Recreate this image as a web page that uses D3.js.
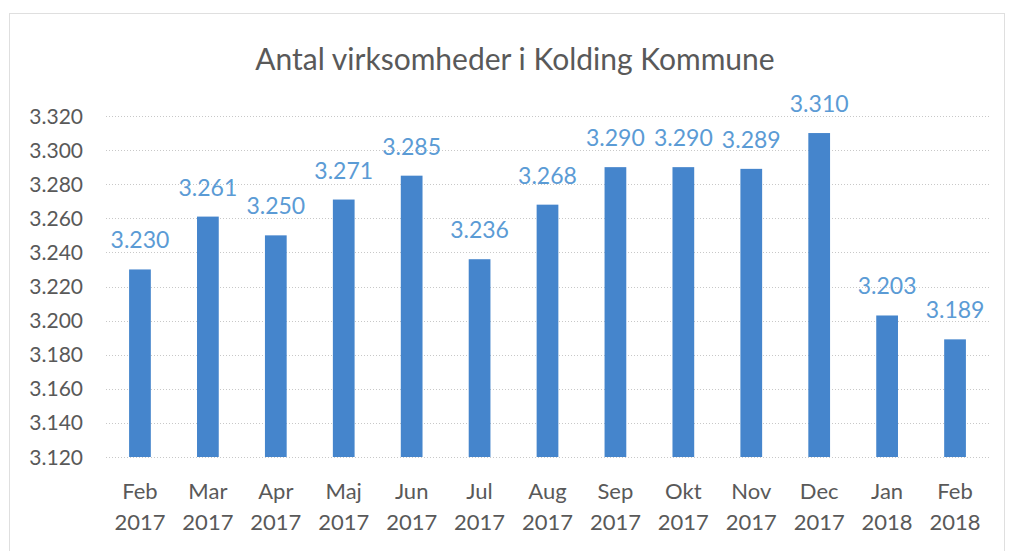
<!DOCTYPE html>
<html>
<head>
<meta charset="utf-8">
<script src="https://cdn.jsdelivr.net/npm/d3@7"></script>
<style>
  body { margin: 0; background: #fff; }
  svg { display: block; font-family: Lato, "Open Sans", sans-serif; }
</style>
</head>
<body>
<div id="chart"></div>
<script>
// data
var months = ["Feb", "Mar", "Apr", "Maj", "Jun", "Jul", "Aug", "Sep", "Okt", "Nov", "Dec", "Jan", "Feb"];
var years = ["2017", "2017", "2017", "2017", "2017", "2017", "2017", "2017", "2017", "2017", "2017", "2018", "2018"];
var values = [3230, 3261, 3250, 3271, 3285, 3236, 3268, 3290, 3290, 3289, 3310, 3203, 3189];
var yTicks = [3120, 3140, 3160, 3180, 3200, 3220, 3240, 3260, 3280, 3300, 3320];

var W = 1009, H = 551;
var svg = d3.select("#chart").append("svg").attr("width", W).attr("height", H);

// chart border
svg.append("rect")
  .attr("x", 9.5).attr("y", 13.5)
  .attr("width", 995).attr("height", 560)
  .attr("fill", "none")
  .attr("stroke", "#bfbfbf")
  .attr("stroke-dasharray", "1,1");

svg.append("text")
  .attr("x", 515).attr("y", 70)
  .attr("text-anchor", "middle")
  .attr("fill", "#595959")
  .style("font-size", "30px")
  .text("Antal virksomheder i Kolding Kommune");

var x = d3.scaleBand()
  .domain(d3.range(values.length))
  .range([106, 989])
  .paddingInner(0.68)
  .paddingOuter(0.34);

var y = d3.scaleLinear().domain([3120, 3320]).range([457, 116]);

var fmt = function (v) { return d3.format(",")(v).replace(",", "."); };

// gridlines
svg.append("g").selectAll("line")
  .data(yTicks)
  .enter().append("line")
  .attr("x1", 106).attr("x2", 989)
  .attr("y1", d => Math.round(y(d)) + 0.5)
  .attr("y2", d => Math.round(y(d)) + 0.5)
  .attr("stroke", "#c8c8c8")
  .attr("stroke-dasharray", "1,2");

// y labels
svg.append("g").selectAll("text")
  .data(yTicks)
  .enter().append("text")
  .attr("x", 83)
  .attr("y", d => y(d) + 7.5)
  .attr("text-anchor", "end")
  .attr("fill", "#595959")
  .style("font-size", "21px")
  .text(fmt);

// bars
svg.append("g").selectAll("rect")
  .data(values)
  .enter().append("rect")
  .attr("x", (d, i) => x(i))
  .attr("width", x.bandwidth())
  .attr("y", d => y(d))
  .attr("height", d => y(3120) - y(d))
  .attr("fill", "#4585cc");

// data labels
svg.append("g").selectAll("text")
  .data(values)
  .enter().append("text")
  .attr("x", (d, i) => x(i) + x.bandwidth() / 2)
  .attr("y", d => y(d) - 21)
  .attr("text-anchor", "middle")
  .attr("fill", "#5b9bd5")
  .style("font-size", "23px")
  .text(fmt);

// x labels
var xl = svg.append("g").selectAll("text")
  .data(months)
  .enter().append("text")
  .attr("text-anchor", "middle")
  .attr("fill", "#595959")
  .style("font-size", "22px");
xl.append("tspan")
  .attr("x", (d, i) => x(i) + x.bandwidth() / 2)
  .attr("y", 499)
  .text(d => d);
xl.append("tspan")
  .attr("x", (d, i) => x(i) + x.bandwidth() / 2)
  .attr("y", 530)
  .text((d, i) => years[i]);
</script>
</body>
</html>
